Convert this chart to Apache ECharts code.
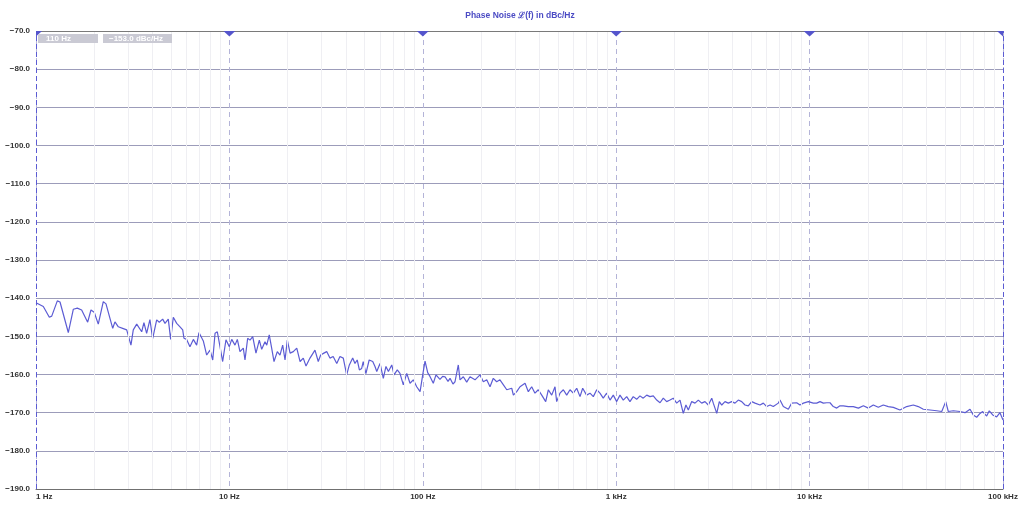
<!DOCTYPE html>
<html>
<head>
<meta charset="utf-8">
<script src="https://cdn.jsdelivr.net/npm/echarts@6/dist/echarts.min.js"></script>
<style>
html,body{margin:0;padding:0;background:#fff;}
#chart{width:1024px;height:505px;}
</style>
</head>
<body>
<div id="chart"></div>
<script>
// ---- Data ----
const chartTitle = 'Phase Noise \u2112(f) in dBc/Hz';
const cursorFreqLabel = '110 Hz';
const cursorValueLabel = '\u2212153.0 dBc/Hz';

const xTickValues = [1, 10, 100, 1000, 10000, 100000];
const xTickLabels = ['1 Hz', '10 Hz', '100 Hz', '1 kHz', '10 kHz', '100 kHz'];
const minorFreqs = [2,3,4,5,6,7,8,9, 20,30,40,50,60,70,80,90, 200,300,400,500,600,700,800,900,
  2000,3000,4000,5000,6000,7000,8000,9000, 20000,30000,40000,50000,60000,70000,80000,90000];
const decadeMarkers = [1, 10, 100, 1000, 10000, 100000];
const cursorFreqs = [1, 100000];

const freqHz = [
  1, 1.091, 1.172, 1.206, 1.289, 1.331, 1.469, 1.56, 1.635, 1.722,
  1.85, 1.924, 2.0, 2.099, 2.228, 2.301, 2.493, 2.56, 2.665, 2.805,
  2.944, 3.097, 3.184, 3.317, 3.38, 3.52, 3.615, 3.733, 3.882, 4.01,
  4.207, 4.34, 4.519, 4.645, 4.83, 4.97, 5.128, 5.34, 5.554, 5.735,
  5.82, 6.01, 6.252, 6.51, 6.77, 6.96, 7.05, 7.33, 7.63, 7.94,
  8.2, 8.43, 8.66, 8.94, 9.23, 9.6, 9.99, 10.28, 10.69, 10.99,
  11.34, 11.8, 12.04, 12.43, 12.78, 13.2, 13.72, 14.28, 14.69, 15.28,
  15.6, 16.07, 16.54, 17.01, 17.69, 18.26, 18.86, 19.39, 19.93, 20.6,
  21.4, 22.3, 23.2, 24.1, 24.9, 26.1, 27.7, 28.8, 29.65, 30.8,
  31.85, 33.1, 34.4, 35.9, 37.3, 38.8, 40.4, 41.7, 43.4, 44.6,
  45.8, 47.0, 48.3, 49.2, 50.8, 52.8, 55.1, 56.6, 57.8, 60.1,
  62.5, 64.5, 66.4, 69.1, 71.0, 73.8, 76.2, 79.3, 82.6, 85.9,
  89.3, 93.0, 96.8, 99.9, 102.7, 106, 108.9, 113.3, 117, 122.7,
  126.7, 130.3, 135, 138.3, 143.2, 146.7, 152.6, 155.7, 162, 168.7,
  175.4, 186.2, 197.6, 205.6, 214.1, 222.6, 231.5, 241, 250.6, 261.1,
  271.8, 288.3, 294, 305.9, 318.2, 337.8, 351.3, 365.6, 380.2, 395.5,
  412, 432, 445.6, 464, 482.6, 492.2, 511.9, 533, 554.6, 577,
  600, 625, 650, 671, 703, 732, 761.5, 793, 824, 857,
  893, 929, 966, 1006, 1046, 1088, 1133, 1178, 1225, 1276,
  1327, 1380, 1438, 1495, 1555, 1620, 1685, 1752, 1824, 1897,
  1973, 2054, 2138, 2223, 2294, 2360, 2457, 2556, 2658, 2767,
  2878, 2994, 3119, 3177, 3311, 3413, 3513, 3652, 3800, 3955,
  4114, 4278, 4456, 4634, 4819, 5016, 5222, 5540, 5764, 6000,
  6248, 6490, 6888, 7031, 7314, 7762, 8082, 8575, 8917, 9283,
  9855, 10450, 10880, 11320, 11780, 12260, 12750, 13260, 13810, 14360,
  14940, 15850, 16830, 17870, 18970, 20130, 21350, 22660, 24050, 25530,
  27100, 29320, 31770, 34370, 36480, 38730, 41960, 45420, 48230, 50560,
  52140, 55340, 59950, 63630, 67540, 70190, 73110, 76050, 78530, 82330,
  84950, 88470, 92710, 96440, 100000
];
const phaseNoiseDbc = [
  -141.2, -142.2, -145.0, -144.7, -140.7, -141.0, -149.0, -142.9, -142.6, -143.1,
  -146.3, -143.1, -143.7, -146.8, -140.9, -141.5, -147.9, -146.2, -147.5, -147.9,
  -148.3, -152.3, -148.3, -146.8, -147.0, -148.8, -146.4, -149.2, -145.6, -150.6,
  -145.7, -146.3, -145.5, -146.6, -145.5, -150.8, -145.0, -146.6, -147.5, -148.3,
  -150.5, -150.8, -152.7, -150.8, -152.3, -149.0, -149.2, -151.2, -154.9, -153.6,
  -156.2, -149.2, -148.8, -152.7, -156.6, -150.9, -152.7, -150.8, -152.3, -150.8,
  -154.0, -153.1, -156.2, -150.5, -151.0, -150.1, -154.4, -151.0, -153.4, -151.4,
  -152.3, -149.6, -153.1, -156.6, -154.0, -154.9, -152.3, -156.2, -151.0, -154.4,
  -154.0, -153.1, -156.6, -155.7, -157.8, -155.7, -153.6, -156.6, -154.9, -154.4,
  -154.0, -155.7, -155.3, -157.1, -155.3, -155.7, -160.1, -157.5, -155.7, -157.1,
  -156.2, -158.8, -158.4, -156.6, -159.8, -156.2, -156.6, -157.9, -159.2, -157.1,
  -161.0, -157.9, -159.2, -157.5, -160.1, -158.8, -159.7, -162.7, -159.7, -162.3,
  -161.4, -163.2, -164.5, -160.1, -156.5, -159.5, -160.5, -162.3, -160.1, -161.3,
  -160.5, -160.6, -161.8, -161.0, -162.5, -161.9, -157.5, -161.4, -160.6, -162.0,
  -160.6, -161.4, -160.1, -161.9, -161.4, -163.2, -161.0, -161.9, -161.4, -162.7,
  -164.0, -163.6, -165.4, -164.5, -163.2, -162.3, -164.5, -163.2, -164.9, -164.0,
  -165.4, -167.1, -164.0, -165.4, -163.2, -167.1, -164.9, -164.0, -165.4, -164.0,
  -164.9, -163.6, -165.8, -163.6, -165.4, -164.9, -165.8, -164.0, -164.9, -166.2,
  -164.9, -166.7, -165.4, -167.1, -165.4, -166.7, -165.8, -167.1, -165.8, -166.5,
  -165.6, -166.2, -165.4, -165.8, -165.6, -166.7, -167.4, -166.2, -167.1, -166.7,
  -166.2, -167.5, -166.7, -170.2, -168.0, -169.3, -167.1, -167.5, -166.7, -167.5,
  -167.1, -168.0, -166.2, -167.5, -170.2, -167.1, -168.0, -167.1, -167.5, -167.1,
  -167.5, -166.7, -167.1, -168.0, -168.2, -167.1, -167.5, -168.0, -167.5, -168.4,
  -168.0, -168.4, -167.5, -166.7, -168.4, -169.1, -167.5, -167.4, -168.0, -167.5,
  -167.1, -167.5, -167.5, -167.1, -167.5, -167.4, -167.4, -168.4, -168.8, -168.2,
  -168.2, -168.4, -168.4, -168.8, -168.2, -168.8, -168.0, -168.6, -168.0, -168.4,
  -168.6, -169.3, -168.4, -168.0, -168.4, -169.1, -169.3, -169.5, -169.7, -167.1,
  -169.7, -169.5, -169.7, -170.0, -169.1, -170.6, -171.2, -170.2, -169.7, -170.9,
  -169.5, -170.6, -171.1, -170.0, -171.9
];

// ---- Chart ----
const lineColor = '#5c5cd4';
const seriesData = freqHz.map((f, i) => [f, phaseNoiseDbc[i]]);

const chart = echarts.init(document.getElementById('chart'), null, {renderer: 'canvas'});
const fontFam = '"Liberation Sans", Arial, sans-serif';

chart.setOption({
  animation: false,
  backgroundColor: '#ffffff',
  title: {
    text: chartTitle,
    left: 515, top: 6,
    textAlign: 'center',
    textStyle: {color: '#4b4bc4', fontSize: 8.5, fontWeight: 'bold', fontFamily: fontFam}
  },
  grid: {left: 36, right: 21, top: 31, bottom: 16, containLabel: false},
  xAxis: {
    type: 'log', logBase: 10, min: 1, max: 100000,
    axisLine: {show: true, lineStyle: {color: '#707070', width: 1}},
    axisTick: {show: false},
    axisLabel: {
      fontSize: 8, fontWeight: 'bold', color: '#333', fontFamily: fontFam, margin: 4,
      formatter: v => { const i = xTickValues.findIndex(t => Math.abs(t - v) / t < 1e-6); return i >= 0 ? xTickLabels[i] : ''; },
      alignMinLabel: 'left'
    },
    splitLine: {show: true, lineStyle: {color: '#b4b4d8', type: [5, 4], width: 1}}
  },
  yAxis: {
    type: 'value', min: -190, max: -70, interval: 10,
    axisLine: {show: false},
    axisTick: {show: false},
    axisLabel: {
      fontSize: 8, fontWeight: 'bold', color: '#333', fontFamily: fontFam, margin: 6,
      formatter: v => (v < 0 ? '\u2212' : '') + Math.abs(v).toFixed(1)
    },
    splitLine: {show: true, lineStyle: {color: '#9c9cba', width: 1}}
  },
  graphic: [
    {type: 'rect', shape: {x: 38, y: 34, width: 60, height: 9}, style: {fill: '#cacad4'}, z: 10},
    {type: 'text', x: 46, y: 38.5, style: {text: cursorFreqLabel, fill: '#ffffff', font: 'bold 8px ' + fontFam, textVerticalAlign: 'middle'}, z: 11},
    {type: 'rect', shape: {x: 103, y: 34, width: 69, height: 9}, style: {fill: '#cacad4'}, z: 10},
    {type: 'text', x: 109, y: 38.5, style: {text: cursorValueLabel, fill: '#ffffff', font: 'bold 8px ' + fontFam, textVerticalAlign: 'middle'}, z: 11}
  ],
  series: [
    {
      // minor (2..9) grid lines
      type: 'line', data: [], silent: true, z: -1,
      markLine: {
        silent: true, symbol: ['none', 'none'], label: {show: false}, animation: false,
        lineStyle: {color: '#efeff3', type: 'solid', width: 1},
        data: minorFreqs.map(f => ({xAxis: f}))
      }
    },
    {
      type: 'line', data: seriesData, showSymbol: false, symbol: 'none', z: 3,
      lineStyle: {color: lineColor, width: 1.2},
      markLine: {
        silent: true, symbol: ['none', 'none'], label: {show: false}, animation: false,
        data: [
          {yAxis: -70, lineStyle: {color: '#7a7a7a', type: 'solid', width: 1}},
          ...cursorFreqs.map(f => ({xAxis: f, lineStyle: {color: lineColor, type: [5, 3], width: 1}}))
        ]
      }
    },
    {
      type: 'custom', clip: true, z: 5,
      data: decadeMarkers.map(f => [f, -70]),
      renderItem: (params, api) => {
        const p = api.coord([api.value(0), api.value(1)]);
        return {
          type: 'polygon',
          shape: {points: [[p[0] - 6, p[1]], [p[0] + 6, p[1]], [p[0], p[1] + 5.5]]},
          style: {fill: '#5555cc'}
        };
      }
    }
  ]
});
</script>
</body>
</html>
